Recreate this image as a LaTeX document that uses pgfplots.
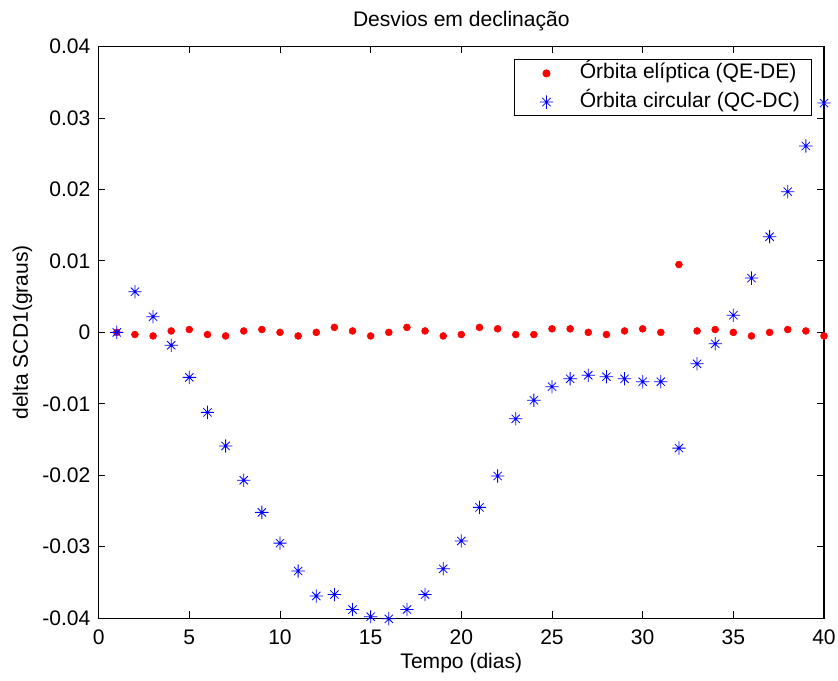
\documentclass[border=0pt]{standalone}
\usepackage{pgfplots}
\pgfplotsset{compat=1.18}
\usepackage{fontspec}
\setmainfont{Liberation Sans}
\pgfdeclareplotmark{mstar}{%
  \pgfpathmoveto{\pgfqpoint{0pt}{\pgfplotmarksize}}\pgfpathlineto{\pgfqpoint{0pt}{-\pgfplotmarksize}}%
  \pgfpathmoveto{\pgfqpoint{\pgfplotmarksize}{0pt}}\pgfpathlineto{\pgfqpoint{-\pgfplotmarksize}{0pt}}%
  \pgfpathmoveto{\pgfqpoint{0.62\pgfplotmarksize}{0.62\pgfplotmarksize}}\pgfpathlineto{\pgfqpoint{-0.62\pgfplotmarksize}{-0.62\pgfplotmarksize}}%
  \pgfpathmoveto{\pgfqpoint{0.62\pgfplotmarksize}{-0.62\pgfplotmarksize}}\pgfpathlineto{\pgfqpoint{-0.62\pgfplotmarksize}{0.62\pgfplotmarksize}}%
  \pgfusepathqstroke}
\newcommand{\fs}{\fontsize{15.8}{18}\selectfont}
\pgfplotsset{mklegend/.code={\pgfplotsset{legend image code/.code={\path[draw=none, fill=none] (0pt,-1pt) rectangle (40pt,1pt);\draw[##1, only marks] plot coordinates {(20pt,0pt)};}}}}
\begin{document}
\begin{tikzpicture}
\begin{axis}[
  scale only axis, width=544pt, height=428.6pt,
  xmin=0, xmax=40, ymin=-0.04, ymax=0.04,
  scaled y ticks=false, scaled x ticks=false,
  xtick={0,5,...,40},
  xticklabels={0,5,10,15,20,25,30,35,40},
  ytick={-0.04,-0.03,-0.02,-0.01,0,0.01,0.02,0.03,0.04},
  yticklabels={-0.04,-0.03,-0.02,-0.01,0,0.01,0.02,0.03,0.04},
  tick align=inside, major tick length=5pt,
  axis line style={line width=0.9pt},
  every tick/.style={black, line width=0.7pt},
  font=\fs,
  xticklabel style={font=\fs, anchor=base, inner sep=0pt, yshift=-19.5pt},
  yticklabel style={font=\fs, anchor=east, inner sep=0pt, xshift=-6pt},
  title={Desvios em declinação},
  every axis title/.style={font=\fs, at={(axis description cs:0.5,1)}, anchor=base, inner sep=0pt, yshift=15pt},
  xlabel={Tempo (dias)},
  ylabel={delta SCD1(graus)},
  every axis x label/.style={font=\fs, at={(axis description cs:0.5,0)}, anchor=base, inner sep=0pt, yshift=-38pt},
  every axis y label/.style={font=\fs, at={(axis description cs:0,0.5)}, rotate=90, anchor=base, inner sep=0pt, yshift=53pt},
  legend style={at={(axis description cs:0.984,0.978)}, anchor=north east, draw=black, line width=0.8pt,
    font=\fs, row sep=3pt, inner xsep=4pt, inner ysep=1pt,
    nodes={inner xsep=5pt, inner ysep=1.5pt, text height=11.5pt, text depth=4pt}},
  legend cell align=left,
  clip=false,
]
\coordinate (ll) at (rel axis cs:0,0);
\coordinate (ur) at (rel axis cs:1,1);
\addplot[only marks, mark=*, mark size=2.6pt, color=red, mark options={fill=red, draw=red}, mklegend] coordinates {
(1,0) (2,-0.0003) (3,-0.0005) (4,0.0002) (5,0.0004) (6,-0.0003) (7,-0.0005) (8,0.0002)
(9,0.0004) (10,0) (11,-0.0005) (12,0) (13,0.0007) (14,0.0002) (15,-0.0005) (16,0)
(17,0.0007) (18,0.0002) (19,-0.0005) (20,-0.0003) (21,0.0007) (22,0.0005) (23,-0.0003)
(24,-0.0003) (25,0.0005) (26,0.0005) (27,0) (28,-0.0003) (29,0.0002) (30,0.0005)
(31,0) (32,0.0095) (33,0.0002) (34,0.0004) (35,0) (36,-0.0005) (37,0) (38,0.0004)
(39,0.0002) (40,-0.0005)
};
\addlegendentry{Órbita elíptica (QE-DE)}
\addplot[only marks, mark=mstar, mark size=5pt, color=blue, mark options={line width=0.6pt}, mklegend] coordinates {
(1,0) (2,0.0057) (3,0.0022) (4,-0.0018) (5,-0.0063) (6,-0.0112) (7,-0.0159) (8,-0.0207)
(9,-0.0252) (10,-0.0295) (11,-0.0334) (12,-0.0369) (13,-0.0367) (14,-0.0388) (15,-0.0398)
(16,-0.0401) (17,-0.0388) (18,-0.0367) (19,-0.0331) (20,-0.0292) (21,-0.0245) (22,-0.0201)
(23,-0.0121) (24,-0.0095) (25,-0.0076) (26,-0.0065) (27,-0.0060) (28,-0.0062) (29,-0.0065)
(30,-0.0069) (31,-0.0069) (32,-0.0162) (33,-0.0044) (34,-0.0016) (35,0.0024) (36,0.0076)
(37,0.0134) (38,0.0197) (39,0.0261) (40,0.0321)
};
\addlegendentry{Órbita circular (QC-DC)}
\end{axis}
\pgfresetboundingbox
\path[use as bounding box] ([shift={(-74pt,-46.5pt)}]ll) rectangle ([shift={(10.5pt,35pt)}]ur);
\end{tikzpicture}
\end{document}
